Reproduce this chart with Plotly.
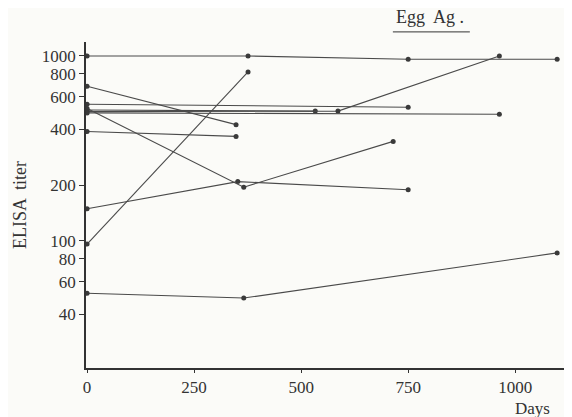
import plotly.graph_objects as go

# Each series: days and ELISA titer
series_days = [
    [0, 376, 750, 1098],
    [0, 348],
    [0, 348],
    [0, 376],
    [0, 352, 750],
    [0, 366, 715],
    [0, 750],
    [0, 533],
    [0, 586, 963],
    [0, 963],
    [0, 366, 1098],
]
series_titer = [
    [1000, 1000, 960, 960],
    [685, 425],
    [390, 367],
    [96, 820],
    [149, 209, 189],
    [520, 195, 345],
    [548, 528],
    [510, 503],
    [500, 503, 1000],
    [492, 484],
    [52, 49, 86],
]

x_ticks = [0, 250, 500, 750, 1000]
y_ticks = [40, 60, 80, 100, 200, 400, 600, 800, 1000]

line_color = "#4a4a4a"
font_family = "Liberation Serif, DejaVu Serif, serif"

fig = go.Figure()
for d, t in zip(series_days, series_titer):
    fig.add_trace(go.Scatter(
        x=d, y=t, mode="lines+markers",
        line=dict(color=line_color, width=1.1),
        marker=dict(color="#3a3a3a", size=5),
        showlegend=False, hoverinfo="skip",
    ))

# page body has an 8px default margin, so the figure is sized to fit inside it
fig.update_layout(
    width=564, height=409,
    margin=dict(l=78, r=5, t=34, b=49),
    paper_bgcolor="#fbfbf8", plot_bgcolor="#fbfbf8",
    font=dict(family=font_family, size=17, color="#333"),
    xaxis=dict(
        range=[-2.5, 1121], tickvals=x_ticks, ticktext=[str(v) for v in x_ticks],
        showgrid=False, zeroline=False, showline=True, linecolor="#333", linewidth=1.5,
        ticks="outside", ticklen=3, tickcolor="#333", tickfont=dict(size=17),
        automargin=False,
    ),
    yaxis=dict(
        type="log", range=[1.3118, 3.0755],
        tickvals=y_ticks, ticktext=[str(v) for v in y_ticks],
        showgrid=False, zeroline=False, showline=True, linecolor="#333", linewidth=1.5,
        ticks="outside", ticklen=5, tickcolor="#333", tickfont=dict(size=17),
        automargin=False,
    ),
    annotations=[
        dict(text="ELISA  titer", xref="paper", yref="paper", x=-0.137, y=0.5,
             xanchor="center", yanchor="middle", textangle=-90, showarrow=False,
             font=dict(size=18, color="#333")),
        dict(text="Egg  Ag .", xref="paper", yref="paper", x=0.715, y=1.077,
             xanchor="center", yanchor="middle", showarrow=False,
             font=dict(size=18, color="#333")),
        dict(text="Days", xref="paper", yref="paper", x=0.929, y=-0.123,
             xanchor="center", yanchor="middle", showarrow=False,
             font=dict(size=17, color="#333")),
    ],
    shapes=[
        dict(type="line", xref="paper", yref="paper", x0=0.638, x1=0.798,
             y0=1.031, y1=1.031, line=dict(color="#333", width=1)),
    ],
)

fig.write_html("out.html")
